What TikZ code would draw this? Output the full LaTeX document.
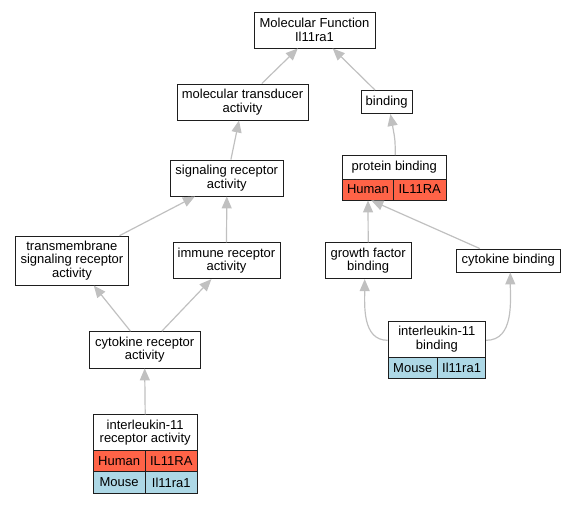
\documentclass[tikz,border=0pt]{standalone}
\usepackage{fontspec}
\setmainfont{Liberation Sans}
\usetikzlibrary{arrows.meta}
\definecolor{humanc}{RGB}{255,99,71}
\definecolor{mousec}{RGB}{173,216,230}
\definecolor{edgec}{RGB}{192,192,192}
\definecolor{borderc}{RGB}{30,30,30}
\tikzset{
  box/.style={draw=borderc, line width=0.9pt, fill=white, align=center, inner sep=0pt,
    font=\fontsize{13}{13.4}\selectfont},
  human/.style={box, fill=humanc},
  mouse/.style={box, fill=mousec},
  edge/.style={draw=edgec, line width=1.2pt, -{Triangle[length=12pt,width=10pt]}},
}
\begin{document}
\begin{tikzpicture}[x=1pt,y=-1pt]
\useasboundingbox (0,0) rectangle (576,504);
% nodes
\node[box, minimum width=121pt, minimum height=36pt] (MF) at (314.5,30) {Molecular Function\\Il11ra1};
\node[box, minimum width=131pt, minimum height=36pt] (mt) at (242.5,102) {molecular transducer\\activity};
\node[box, minimum width=51pt, minimum height=23pt] (bind) at (386.7,102) {binding};
\node[box, minimum width=112.4pt, minimum height=36pt] (sig) at (226.8,178) {signaling receptor\\activity};
% protein binding
\node[box, minimum width=103.4pt, minimum height=23.3pt] (prot) at (394.3,167.3) {protein binding};
\node[human, minimum width=50.8pt, minimum height=21pt] (ph) at (368,189.5) {Human};
\node[human, minimum width=52.6pt, minimum height=21pt] (pg) at (419.7,189.5) {IL11RA};
\node[box, minimum width=113pt, minimum height=49pt] (tm) at (71.9,260.6) {transmembrane\\signaling receptor\\activity};
\node[box, minimum width=107pt, minimum height=36pt] (imm) at (226.5,260.7) {immune receptor\\activity};
\node[box, minimum width=85.6pt, minimum height=36pt] (gf) at (368.2,260.7) {growth factor\\binding};
\node[box, minimum width=104.7pt, minimum height=23pt] (cb) at (508.3,260.5) {cytokine binding};
\node[box, minimum width=111.4pt, minimum height=36.3pt] (cr) at (144.7,349.8) {cytokine receptor\\activity};
% interleukin-11 binding
\node[box, minimum width=97.7pt, minimum height=36pt] (ilb) at (436.9,339.3) {interleukin-11\\binding};
\node[mouse, minimum width=49.5pt, minimum height=21.4pt] (ilbm) at (412.75,368) {Mouse};
\node[mouse, minimum width=48.2pt, minimum height=21.4pt] (ilbg) at (461.6,368) {Il11ra1};
% interleukin-11 receptor activity
\node[box, minimum width=104.4pt, minimum height=36pt] (ilr) at (145.2,432.7) {interleukin-11\\receptor activity};
\node[human, minimum width=52.2pt, minimum height=21pt] (ilrh) at (119.1,461.2) {Human};
\node[human, minimum width=52.2pt, minimum height=21pt] (ilrhg) at (171.3,461.2) {IL11RA};
\node[mouse, minimum width=52.2pt, minimum height=21.6pt] (ilrm) at (119.1,482.5) {Mouse};
\node[mouse, minimum width=52.2pt, minimum height=21.6pt] (ilrmg) at (171.3,482.5) {Il11ra1};
% edges
\draw[edge] ([xshift=19.3pt]mt.north) -- ([xshift=-16.7pt]MF.south);
\draw[edge] ([xshift=-11.7pt]bind.north) -- ([xshift=18.2pt]MF.south);
\draw[edge] ([xshift=4.1pt]sig.north) -- ([xshift=-3.5pt]mt.south);
\draw[edge] ([xshift=0.9pt]prot.north) .. controls ([xshift=0.9pt,yshift=15pt]prot.north) .. ([xshift=3.7pt]bind.south);
\draw[edge] ([xshift=47.6pt]tm.north) -- ([xshift=-31.9pt]sig.south);
\draw[edge] (imm.north) -- (sig.south);
\draw[edge] (gf.north) -- (ph.south);
\draw[edge] ([xshift=-28.5pt]cb.north) -- ([xshift=3.3pt]ph.south);
\draw[edge] ([xshift=-14.2pt]cr.north) -- ([xshift=21.9pt]tm.south);
\draw[edge] ([xshift=17.1pt]cr.north) -- ([xshift=-15.1pt]imm.south);
\draw[edge] (ilr.north) -- (cr.south);
\draw[edge] ([yshift=-1pt]ilb.west) to[out=180,in=-90] ([xshift=-3.5pt]gf.south);
\draw[edge] ([yshift=-1pt]ilb.east) to[out=0,in=-90] ([xshift=2pt]cb.south);
\end{tikzpicture}
\end{document}
